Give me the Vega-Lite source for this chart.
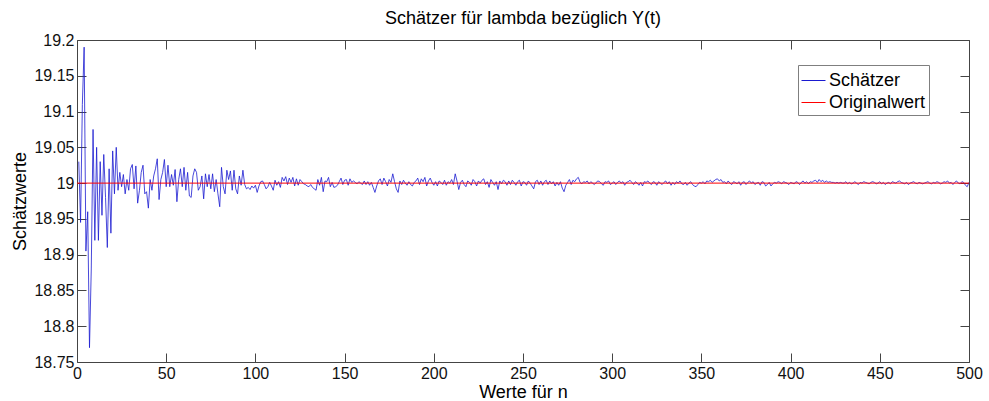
{
  "$schema": "https://vega.github.io/schema/vega-lite/v6.json",
  "width": 892,
  "height": 322,
  "autosize": {"type": "none"},
  "padding": {"left": 77, "top": 40, "right": 20, "bottom": 39},
  "background": "white",
  "title": {
    "text": "Schätzer für lambda bezüglich Y(t)",
    "font": "Liberation Sans",
    "fontSize": 18,
    "fontWeight": "normal",
    "color": "#000000",
    "anchor": "middle",
    "offset": 4
  },
  "config": {
    "view": {"stroke": null},
    "axis": {
      "grid": false,
      "domainColor": "#444444",
      "domainWidth": 1,
      "tickColor": "#444444",
      "tickWidth": 1,
      "tickSize": -9,
      "labelFont": "Liberation Sans",
      "labelFontSize": 16,
      "labelColor": "#111111",
      "labelPadding": 12,
      "labelOverlap": false,
      "labelFlush": false,
      "labelBound": false,
      "titleFont": "Liberation Sans",
      "titleFontWeight": "normal",
      "titleColor": "#000000",
      "titleFontSize": 18
    },
    "legend": {
      "orient": "none",
      "legendX": 721,
      "legendY": 25,
      "direction": "vertical",
      "strokeColor": "#7f7f7f",
      "fillColor": "#ffffff",
      "padding": 3,
      "labelFont": "Liberation Sans",
      "labelFontSize": 18,
      "labelColor": "#000000",
      "labelOffset": 3,
      "symbolType": "stroke",
      "symbolSize": 576,
      "symbolStrokeWidth": 1,
      "rowPadding": 0
    }
  },
  "datasets": {
    "schaetzer": [
      {"n":1,"v":19.03},{"n":2,"v":18.945},{"n":3,"v":19.11},{"n":4,"v":19.19},{"n":5,"v":18.905},
      {"n":6,"v":18.96},{"n":7,"v":18.77},{"n":8,"v":18.88},{"n":9,"v":19.075},{"n":10,"v":18.92},
      {"n":11,"v":19.05},{"n":12,"v":18.92},{"n":13,"v":19.03},{"n":14,"v":18.955},{"n":15,"v":19.04},
      {"n":16,"v":18.98},{"n":17,"v":18.91},{"n":18,"v":19.02},{"n":19,"v":18.93},{"n":20,"v":19.045},
      {"n":21,"v":18.985},{"n":22,"v":19.05},{"n":23,"v":18.99},{"n":24,"v":19.015},{"n":25,"v":18.995},
      {"n":26,"v":19.012},{"n":27,"v":18.985},{"n":28,"v":19.005},{"n":29,"v":18.99},{"n":30,"v":19.02},
      {"n":31,"v":19.026},{"n":32,"v":18.992},{"n":33,"v":19.024},{"n":34,"v":18.972},{"n":35,"v":18.99},
      {"n":36,"v":19.015},{"n":37,"v":19.025},{"n":38,"v":18.985},{"n":39,"v":18.988},{"n":40,"v":18.965},
      {"n":41,"v":19.005},{"n":42,"v":18.99},{"n":43,"v":19.01},{"n":44,"v":19.02},{"n":45,"v":19.034},
      {"n":46,"v":18.977},{"n":47,"v":19.005},{"n":48,"v":19.015},{"n":49,"v":19.033},{"n":50,"v":18.995},
      {"n":51,"v":19.025},{"n":52,"v":18.995},{"n":53,"v":19.012},{"n":54,"v":18.997},{"n":55,"v":19.019},
      {"n":56,"v":18.974},{"n":57,"v":19.005},{"n":58,"v":19.02},{"n":59,"v":18.995},{"n":60,"v":19.022},
      {"n":61,"v":18.99},{"n":62,"v":19.015},{"n":63,"v":18.982},{"n":64,"v":18.98},{"n":65,"v":19.01},
      {"n":66,"v":19.02},{"n":67,"v":19.015},{"n":68,"v":18.99},{"n":69,"v":18.995},{"n":70,"v":19.01},
      {"n":71,"v":18.978},{"n":72,"v":19.013},{"n":73,"v":18.995},{"n":74,"v":19.012},{"n":75,"v":18.992},
      {"n":76,"v":19.013},{"n":77,"v":18.988},{"n":78,"v":19.005},{"n":79,"v":18.985},{"n":80,"v":18.967},
      {"n":81,"v":19.022},{"n":82,"v":18.995},{"n":83,"v":18.985},{"n":84,"v":19.018},{"n":85,"v":19.005},
      {"n":86,"v":19.017},{"n":87,"v":18.99},{"n":88,"v":19.018},{"n":89,"v":18.992},{"n":90,"v":18.985},
      {"n":91,"v":19.01},{"n":92,"v":18.997},{"n":93,"v":19.018},{"n":94,"v":18.998},{"n":95,"v":18.992},
      {"n":96,"v":18.994},{"n":97,"v":18.991},{"n":98,"v":18.996},{"n":99,"v":18.993},{"n":100,"v":18.997},
      {"n":101,"v":18.987},{"n":102,"v":18.996},{"n":103,"v":19.002},{"n":104,"v":19.003},{"n":105,"v":18.998},
      {"n":106,"v":18.992},{"n":107,"v":18.995},{"n":108,"v":19.001},{"n":109,"v":18.996},{"n":110,"v":18.99},
      {"n":111,"v":19.004},{"n":112,"v":18.997},{"n":113,"v":19.002},{"n":114,"v":18.994},{"n":115,"v":19.008},
      {"n":116,"v":19.003},{"n":117,"v":19.009},{"n":118,"v":18.998},{"n":119,"v":19.007},{"n":120,"v":19.001},
      {"n":121,"v":19.008},{"n":122,"v":18.996},{"n":123,"v":19.006},{"n":124,"v":18.997},{"n":125,"v":19.005},
      {"n":126,"v":19.002},{"n":127,"v":18.999},{"n":128,"v":18.998},{"n":129,"v":18.996},{"n":130,"v":18.995},
      {"n":131,"v":18.998},{"n":132,"v":18.994},{"n":133,"v":18.992},{"n":134,"v":18.99},{"n":135,"v":19.005},
      {"n":136,"v":18.997},{"n":137,"v":19.008},{"n":138,"v":18.988},{"n":139,"v":19.003},{"n":140,"v":19.002},
      {"n":141,"v":19.008},{"n":142,"v":18.995},{"n":143,"v":19.001},{"n":144,"v":18.994},{"n":145,"v":18.995},
      {"n":146,"v":18.997},{"n":147,"v":19.002},{"n":148,"v":19.007},{"n":149,"v":18.998},{"n":150,"v":19.004},
      {"n":151,"v":19.005},{"n":152,"v":18.997},{"n":153,"v":19.006},{"n":154,"v":19.001},{"n":155,"v":19.003},
      {"n":156,"v":19.001},{"n":157,"v":18.999},{"n":158,"v":19.002},{"n":159,"v":19.0},{"n":160,"v":18.998},
      {"n":161,"v":19.003},{"n":162,"v":18.998},{"n":163,"v":19.002},{"n":164,"v":18.997},{"n":165,"v":19.001},
      {"n":166,"v":18.994},{"n":167,"v":18.987},{"n":168,"v":18.996},{"n":169,"v":19.003},{"n":170,"v":19.006},
      {"n":171,"v":18.998},{"n":172,"v":19.007},{"n":173,"v":19.002},{"n":174,"v":18.996},{"n":175,"v":19.005},
      {"n":176,"v":19.001},{"n":177,"v":19.013},{"n":178,"v":19.002},{"n":179,"v":18.992},{"n":180,"v":18.987},
      {"n":181,"v":19.003},{"n":182,"v":18.998},{"n":183,"v":19.004},{"n":184,"v":19.0},{"n":185,"v":18.997},
      {"n":186,"v":19.002},{"n":187,"v":18.998},{"n":188,"v":18.996},{"n":189,"v":19.001},{"n":190,"v":19.003},
      {"n":191,"v":19.007},{"n":192,"v":18.998},{"n":193,"v":19.006},{"n":194,"v":19.002},{"n":195,"v":19.008},
      {"n":196,"v":18.996},{"n":197,"v":19.003},{"n":198,"v":19.007},{"n":199,"v":19.001},{"n":200,"v":18.997},
      {"n":201,"v":19.002},{"n":202,"v":18.996},{"n":203,"v":19.003},{"n":204,"v":19.001},{"n":205,"v":18.998},
      {"n":206,"v":19.004},{"n":207,"v":18.997},{"n":208,"v":19.002},{"n":209,"v":19.0},{"n":210,"v":19.005},
      {"n":211,"v":18.998},{"n":212,"v":19.013},{"n":213,"v":19.003},{"n":214,"v":18.991},{"n":215,"v":19.001},
      {"n":216,"v":19.004},{"n":217,"v":18.998},{"n":218,"v":18.995},{"n":219,"v":19.003},{"n":220,"v":19.001},
      {"n":221,"v":18.997},{"n":222,"v":19.005},{"n":223,"v":19.002},{"n":224,"v":18.996},{"n":225,"v":19.003},
      {"n":226,"v":19.0},{"n":227,"v":19.004},{"n":228,"v":19.006},{"n":229,"v":18.998},{"n":230,"v":19.002},
      {"n":231,"v":18.994},{"n":232,"v":19.005},{"n":233,"v":19.001},{"n":234,"v":18.997},{"n":235,"v":19.002},
      {"n":236,"v":18.991},{"n":237,"v":19.003},{"n":238,"v":18.999},{"n":239,"v":19.004},{"n":240,"v":19.002},
      {"n":241,"v":18.997},{"n":242,"v":19.003},{"n":243,"v":18.998},{"n":244,"v":19.004},{"n":245,"v":19.001},
      {"n":246,"v":18.997},{"n":247,"v":19.002},{"n":248,"v":19.004},{"n":249,"v":18.996},{"n":250,"v":19.002},
      {"n":251,"v":19.001},{"n":252,"v":18.997},{"n":253,"v":19.003},{"n":254,"v":19.0},{"n":255,"v":18.996},
      {"n":256,"v":18.992},{"n":257,"v":19.002},{"n":258,"v":19.004},{"n":259,"v":18.998},{"n":260,"v":19.003},
      {"n":261,"v":18.997},{"n":262,"v":19.002},{"n":263,"v":19.004},{"n":264,"v":18.998},{"n":265,"v":19.003},
      {"n":266,"v":18.999},{"n":267,"v":19.002},{"n":268,"v":18.996},{"n":269,"v":19.001},{"n":270,"v":18.997},
      {"n":271,"v":19.002},{"n":272,"v":18.993},{"n":273,"v":18.988},{"n":274,"v":18.997},{"n":275,"v":19.001},
      {"n":276,"v":19.005},{"n":277,"v":18.998},{"n":278,"v":19.004},{"n":279,"v":19.002},{"n":280,"v":19.006},
      {"n":281,"v":19.008},{"n":282,"v":19.001},{"n":283,"v":18.999},{"n":284,"v":19.002},{"n":285,"v":19.001},
      {"n":286,"v":19.003},{"n":287,"v":18.999},{"n":288,"v":19.002},{"n":289,"v":19.0},{"n":290,"v":18.998},
      {"n":291,"v":19.001},{"n":292,"v":19.003},{"n":293,"v":19.002},{"n":294,"v":18.999},{"n":295,"v":18.997},
      {"n":296,"v":19.002},{"n":297,"v":19.001},{"n":298,"v":19.003},{"n":299,"v":18.998},{"n":300,"v":19.0},
      {"n":301,"v":19.002},{"n":302,"v":18.998},{"n":303,"v":19.001},{"n":304,"v":19.003},{"n":305,"v":19.0},
      {"n":306,"v":19.002},{"n":307,"v":18.997},{"n":308,"v":19.001},{"n":309,"v":19.002},{"n":310,"v":19.004},
      {"n":311,"v":19.001},{"n":312,"v":18.998},{"n":313,"v":19.002},{"n":314,"v":19.0},{"n":315,"v":18.997},
      {"n":316,"v":19.001},{"n":317,"v":18.996},{"n":318,"v":19.002},{"n":319,"v":19.001},{"n":320,"v":19.003},
      {"n":321,"v":19.0},{"n":322,"v":18.998},{"n":323,"v":19.002},{"n":324,"v":19.001},{"n":325,"v":18.997},
      {"n":326,"v":19.002},{"n":327,"v":19.0},{"n":328,"v":18.998},{"n":329,"v":19.001},{"n":330,"v":19.003},
      {"n":331,"v":18.999},{"n":332,"v":19.002},{"n":333,"v":18.997},{"n":334,"v":19.001},{"n":335,"v":18.998},
      {"n":336,"v":19.002},{"n":337,"v":19.0},{"n":338,"v":19.003},{"n":339,"v":18.999},{"n":340,"v":18.998},
      {"n":341,"v":19.001},{"n":342,"v":18.997},{"n":343,"v":19.0},{"n":344,"v":19.002},{"n":345,"v":18.998},
      {"n":346,"v":18.996},{"n":347,"v":18.995},{"n":348,"v":18.998},{"n":349,"v":19.001},{"n":350,"v":19.0},
      {"n":351,"v":19.002},{"n":352,"v":18.999},{"n":353,"v":19.003},{"n":354,"v":19.002},{"n":355,"v":19.004},
      {"n":356,"v":19.001},{"n":357,"v":19.003},{"n":358,"v":19.005},{"n":359,"v":19.006},{"n":360,"v":19.003},
      {"n":361,"v":19.005},{"n":362,"v":19.001},{"n":363,"v":19.002},{"n":364,"v":18.999},{"n":365,"v":19.003},
      {"n":366,"v":19.0},{"n":367,"v":18.998},{"n":368,"v":19.002},{"n":369,"v":19.001},{"n":370,"v":18.999},
      {"n":371,"v":19.002},{"n":372,"v":18.997},{"n":373,"v":19.001},{"n":374,"v":19.002},{"n":375,"v":18.998},
      {"n":376,"v":19.001},{"n":377,"v":19.003},{"n":378,"v":19.0},{"n":379,"v":19.002},{"n":380,"v":18.998},
      {"n":381,"v":19.0},{"n":382,"v":19.001},{"n":383,"v":18.997},{"n":384,"v":19.002},{"n":385,"v":19.001},
      {"n":386,"v":18.996},{"n":387,"v":18.998},{"n":388,"v":19.001},{"n":389,"v":18.996},{"n":390,"v":18.999},
      {"n":391,"v":19.001},{"n":392,"v":19.0},{"n":393,"v":19.002},{"n":394,"v":19.001},{"n":395,"v":18.999},
      {"n":396,"v":19.002},{"n":397,"v":19.001},{"n":398,"v":19.0},{"n":399,"v":18.998},{"n":400,"v":19.001},
      {"n":401,"v":19.0},{"n":402,"v":18.999},{"n":403,"v":19.002},{"n":404,"v":19.001},{"n":405,"v":18.998},
      {"n":406,"v":19.001},{"n":407,"v":19.003},{"n":408,"v":19.0},{"n":409,"v":19.002},{"n":410,"v":18.999},
      {"n":411,"v":19.002},{"n":412,"v":19.001},{"n":413,"v":19.003},{"n":414,"v":19.004},{"n":415,"v":19.001},
      {"n":416,"v":19.005},{"n":417,"v":19.002},{"n":418,"v":19.004},{"n":419,"v":19.001},{"n":420,"v":19.003},
      {"n":421,"v":19.001},{"n":422,"v":19.002},{"n":423,"v":19.001},{"n":424,"v":19.001},{"n":425,"v":19.0},
      {"n":426,"v":19.001},{"n":427,"v":19.0},{"n":428,"v":19.001},{"n":429,"v":19.0},{"n":430,"v":19.0},
      {"n":431,"v":19.002},{"n":432,"v":18.999},{"n":433,"v":19.001},{"n":434,"v":18.999},{"n":435,"v":19.0},
      {"n":436,"v":19.002},{"n":437,"v":19.0},{"n":438,"v":18.998},{"n":439,"v":19.001},{"n":440,"v":19.0},
      {"n":441,"v":19.002},{"n":442,"v":19.001},{"n":443,"v":19.0},{"n":444,"v":18.999},{"n":445,"v":19.001},
      {"n":446,"v":19.002},{"n":447,"v":19.001},{"n":448,"v":18.999},{"n":449,"v":19.0},{"n":450,"v":19.002},
      {"n":451,"v":18.999},{"n":452,"v":19.001},{"n":453,"v":18.998},{"n":454,"v":19.0},{"n":455,"v":19.001},
      {"n":456,"v":18.999},{"n":457,"v":19.002},{"n":458,"v":19.001},{"n":459,"v":19.0},{"n":460,"v":19.002},
      {"n":461,"v":19.003},{"n":462,"v":19.001},{"n":463,"v":19.0},{"n":464,"v":18.999},{"n":465,"v":19.001},
      {"n":466,"v":18.998},{"n":467,"v":19.0},{"n":468,"v":19.001},{"n":469,"v":19.002},{"n":470,"v":19.0},
      {"n":471,"v":18.999},{"n":472,"v":19.001},{"n":473,"v":19.0},{"n":474,"v":18.999},{"n":475,"v":19.0},
      {"n":476,"v":19.001},{"n":477,"v":19.002},{"n":478,"v":19.0},{"n":479,"v":18.999},{"n":480,"v":19.001},
      {"n":481,"v":19.0},{"n":482,"v":19.002},{"n":483,"v":19.001},{"n":484,"v":18.999},{"n":485,"v":19.0},
      {"n":486,"v":19.002},{"n":487,"v":19.001},{"n":488,"v":19.003},{"n":489,"v":19.0},{"n":490,"v":19.001},
      {"n":491,"v":18.998},{"n":492,"v":19.001},{"n":493,"v":19.003},{"n":494,"v":19.0},{"n":495,"v":18.999},
      {"n":496,"v":19.002},{"n":497,"v":19.001},{"n":498,"v":18.997},{"n":499,"v":18.995},{"n":500,"v":19.001}
    ],
    "original": [
      {"n": 0, "v": 19},
      {"n": 500, "v": 19}
    ]
  },
  "layer": [
    {
      "data": {"name": "schaetzer"},
      "mark": {"type": "line", "strokeWidth": 0.8},
      "encoding": {
        "x": {
          "field": "n",
          "type": "quantitative",
          "scale": {"domain": [0, 500], "nice": false, "zero": false},
          "axis": {
            "orient": "bottom",
            "values": [0, 50, 100, 150, 200, 250, 300, 350, 400, 450, 500],
            "title": "Werte für n",
            "titlePadding": 2
          }
        },
        "y": {
          "field": "v",
          "type": "quantitative",
          "scale": {"domain": [18.75, 19.2], "nice": false, "zero": false},
          "axis": {
            "orient": "left",
            "values": [18.75, 18.8, 18.85, 18.9, 18.95, 19, 19.05, 19.1, 19.15, 19.2],
            "format": ".2~f",
            "title": "Schätzwerte",
            "titlePadding": 4
          }
        },
        "color": {
          "datum": "Schätzer",
          "type": "nominal",
          "scale": {"domain": ["Schätzer", "Originalwert"], "range": ["#1a1ad0", "#ff0000"]},
          "legend": {"title": null}
        }
      }
    },
    {
      "data": {"name": "original"},
      "mark": {"type": "line", "strokeWidth": 1},
      "encoding": {
        "x": {
          "field": "n",
          "type": "quantitative",
          "scale": {"domain": [0, 500], "nice": false, "zero": false},
          "axis": {
            "orient": "top",
            "values": [0, 50, 100, 150, 200, 250, 300, 350, 400, 450, 500],
            "labels": false,
            "title": null
          }
        },
        "y": {
          "field": "v",
          "type": "quantitative",
          "scale": {"domain": [18.75, 19.2], "nice": false, "zero": false},
          "axis": {
            "orient": "right",
            "values": [18.75, 18.8, 18.85, 18.9, 18.95, 19, 19.05, 19.1, 19.15, 19.2],
            "labels": false,
            "title": null
          }
        },
        "color": {"datum": "Originalwert", "type": "nominal"}
      }
    }
  ],
  "resolve": {"axis": {"x": "independent", "y": "independent"}}
}
